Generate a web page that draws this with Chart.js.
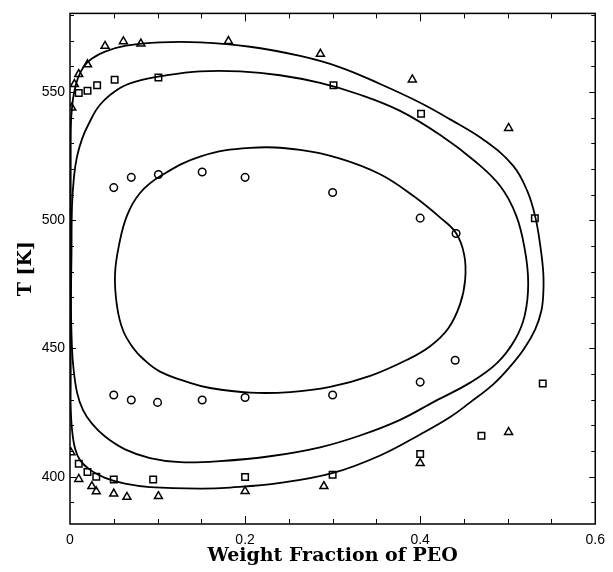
<!DOCTYPE html>
<html>
<head>
<meta charset="utf-8">
<script src="https://cdn.jsdelivr.net/npm/chart.js@4.4.0/dist/chart.umd.min.js"></script>
<style>
  html, body { margin: 0; padding: 0; background: #fff; }
  #wrap { width: 613px; height: 572px; position: relative; }
</style>
</head>
<body>
<div id="wrap"><canvas id="chart"></canvas></div>
<script>
// tick labels
var xTicks = [0, 0.2, 0.4, 0.6];
var yTicks = [400, 450, 500, 550];

// measured points: triangles, squares, circles
var triX = [0.002, 0.005, 0.010, 0.020, 0.040, 0.061, 0.081, 0.181, 0.286, 0.391, 0.501,
            0.001, 0.010, 0.025, 0.030, 0.050, 0.065, 0.101, 0.200, 0.290, 0.400, 0.501];
var triY = [543.8, 553.0, 556.9, 560.7, 567.9, 569.7, 568.8, 569.8, 564.8, 554.8, 535.9,
            409.5, 399.1, 396.3, 394.3, 393.4, 392.1, 392.4, 394.4, 396.3, 405.3, 417.4];

var sqX = [0.010, 0.020, 0.031, 0.051, 0.101, 0.301, 0.401, 0.531, 0.540,
           0.010, 0.020, 0.030, 0.050, 0.095, 0.200, 0.300, 0.400, 0.470];
var sqY = [549.6, 550.5, 552.6, 554.7, 555.6, 552.6, 541.5, 500.8, 436.4,
           405.1, 401.9, 400.0, 398.9, 398.9, 399.9, 400.8, 408.9, 416.0];

var circX = [0.050, 0.070, 0.101, 0.151, 0.200, 0.300, 0.400, 0.441,
             0.050, 0.070, 0.100, 0.151, 0.200, 0.300, 0.400, 0.440];
var circY = [512.7, 516.7, 517.8, 518.8, 516.7, 510.8, 500.8, 494.8,
             431.9, 429.9, 429.0, 429.9, 430.9, 431.9, 436.9, 445.4];

// calculated curves (closed loops, last point = first point)
var innerX = [0.0514, 0.056, 0.0651, 0.080, 0.1029, 0.1486, 0.2057, 0.2629, 0.3086, 0.3543,
              0.392, 0.4229, 0.4411, 0.4503, 0.4514, 0.4457, 0.432, 0.4114, 0.3851, 0.3429,
              0.2971, 0.2514, 0.2057, 0.160, 0.1371, 0.1029, 0.0834, 0.072, 0.0606, 0.0537, 0.0514];
var innerY = [478.8, 490.3, 501.8, 510.6, 517.1, 524.8, 528.2, 527.4, 524.0, 517.9,
              509.5, 501.0, 494.9, 486.5, 476.9, 467.4, 457.8, 450.9, 445.6, 439.3,
              435.0, 433.0, 432.8, 434.6, 436.6, 441.0, 446.0, 450.3, 457.0, 466.5, 478.8];

var midX = [0.0011, 0.0017, 0.0023, 0.0046, 0.008, 0.0137, 0.0206, 0.0343, 0.0571, 0.080,
            0.1029, 0.1486, 0.1943, 0.240, 0.2857, 0.3314, 0.3771, 0.4229, 0.4629, 0.4914,
            0.5097, 0.5195, 0.5234, 0.5195, 0.5086, 0.488, 0.4571, 0.4171, 0.3771, 0.3314,
            0.2857, 0.2286, 0.1714, 0.1257, 0.0914, 0.0629, 0.040, 0.0251, 0.0149, 0.008,
            0.0034, 0.0017, 0.0011];
var midY = [467.4, 486.5, 505.6, 517.1, 524.8, 531.6, 537.0, 545.0, 551.5, 554.5,
            556.1, 558.0, 558.0, 556.5, 553.5, 548.9, 542.6, 533.2, 522.9, 513.3,
            501.8, 488.6, 475.5, 463.0, 453.6, 444.4, 436.7, 429.5, 422.2, 416.1,
            411.5, 408.0, 406.1, 405.7, 407.3, 410.7, 415.7, 420.7, 426.0, 432.9,
            444.4, 455.9, 467.4];

var outerX = [0.0008, 0.0008, 0.0008, 0.0008, 0.0011, 0.0023, 0.0046, 0.0091, 0.016, 0.0251,
              0.040, 0.064, 0.1029, 0.1486, 0.2057, 0.2629, 0.3086, 0.3543, 0.400, 0.4343,
              0.4743, 0.5063, 0.5223, 0.5314, 0.5371, 0.5406, 0.5406, 0.5383, 0.5314, 0.5189,
              0.5029, 0.4834, 0.4571, 0.4343, 0.400, 0.3543, 0.3006, 0.240, 0.1829, 0.1486,
              0.0914, 0.0629, 0.040, 0.0229, 0.0114, 0.0057, 0.0023, 0.0008, 0.0008];
var outerY = [436.7, 467.4, 505.6, 528.6, 537.8, 543.9, 549.6, 555.4, 560.0, 563.0,
              565.7, 568.0, 569.3, 569.3, 567.6, 564.0, 559.6, 553.1, 545.8, 539.3,
              530.9, 521.2, 511.4, 501.4, 490.3, 479.6, 471.2, 464.5, 457.5, 450.0,
              443.0, 436.0, 429.0, 423.3, 416.5, 408.3, 401.5, 397.6, 395.8, 395.4,
              396.0, 397.3, 399.6, 402.7, 406.5, 411.1, 418.4, 427.2, 436.7];

function pts(xs, ys) {
  return xs.map(function(x, i){ return {x: x, y: ys[i]}; });
}

// wrap one point on each end so the spline closes smoothly, hide the wrap segments
function curve(xs, ys) {
  var d = pts(xs, ys);
  var n = d.length;
  var data = [d[n - 2]].concat(d, [d[1]]);
  var last = data.length - 1;
  return {
    data: data,
    showLine: true,
    borderColor: '#000',
    borderWidth: 1.8,
    pointRadius: 0,
    tension: 0.4,
    fill: false,
    segment: {
      borderColor: function(c){
        return (c.p0DataIndex === 0 || c.p1DataIndex === last) ? 'rgba(0,0,0,0)' : '#000';
      }
    }
  };
}

function marks(xs, ys, style, r) {
  return {
    data: pts(xs, ys),
    showLine: false,
    pointStyle: style,
    pointRadius: r,
    pointBorderColor: '#000',
    pointBackgroundColor: 'rgba(0,0,0,0)',
    pointBorderWidth: 1.5
  };
}

// frame and inward ticks
var frameTicks = {
  id: 'frameTicks',
  afterDatasetsDraw: function(chart) {
    var ctx = chart.ctx, a = chart.chartArea;
    var x = chart.scales.x, y = chart.scales.y;
    ctx.save();
    ctx.strokeStyle = '#000';
    ctx.lineWidth = 1.5;
    ctx.strokeRect(a.left, a.top, a.right - a.left, a.bottom - a.top);
    ctx.lineWidth = 1;
    ctx.beginPath();
    for (var i = 1; i < 12; i++) {
      var px = Math.round(x.getPixelForValue(i * 0.05)) + 0.5;
      var len = (i % 4 === 0) ? 8 : 5;
      ctx.moveTo(px, a.bottom); ctx.lineTo(px, a.bottom - len);
      ctx.moveTo(px, a.top); ctx.lineTo(px, a.top + len);
    }
    for (var v = 390; v <= 580; v += 10) {
      var py = Math.round(y.getPixelForValue(v)) + 0.5;
      var l2 = (v % 50 === 0) ? 6 : 4;
      ctx.moveTo(a.left, py); ctx.lineTo(a.left + l2, py);
      ctx.moveTo(a.right, py); ctx.lineTo(a.right - l2, py);
    }
    ctx.stroke();
    ctx.restore();
  }
};

var tickFont = {family: 'Liberation Sans, Arial, sans-serif', size: 14};
var titleFont = {family: 'DejaVu Serif, serif', size: 19, weight: 'bold'};

new Chart(document.getElementById('chart'), {
  type: 'scatter',
  data: {
    datasets: [
      curve(innerX, innerY),
      curve(midX, midY),
      curve(outerX, outerY),
      marks(triX, triY, 'triangle', 4.6),
      marks(sqX, sqY, 'rect', 4.6),
      marks(circX, circY, 'circle', 3.8)
    ]
  },
  options: {
    responsive: true,
    maintainAspectRatio: false,
    animation: false,
    layout: {padding: {top: 4, right: 17, left: 0, bottom: 0}},
    plugins: {legend: {display: false}, tooltip: {enabled: false}},
    scales: {
      x: {
        type: 'linear',
        min: 0, max: 0.6,
        grid: {display: false, drawTicks: false},
        border: {display: false},
        afterBuildTicks: function(s){ s.ticks = xTicks.map(function(v){ return {value: v}; }); },
        afterFit: function(s){ s.height = 48; },
        ticks: {color: '#000', font: tickFont, padding: 8, maxRotation: 0,
                callback: function(v){ return String(v); }},
        title: {display: true, text: 'Weight Fraction of PEO', color: '#000', font: titleFont,
                padding: {top: 0, bottom: 5}}
      },
      y: {
        type: 'linear',
        min: 381.6, max: 580.6,
        grid: {display: false, drawTicks: false},
        border: {display: false},
        afterBuildTicks: function(s){ s.ticks = yTicks.map(function(v){ return {value: v}; }); },
        afterFit: function(s){ s.width = 70; },
        ticks: {color: '#000', font: tickFont, padding: 5,
                callback: function(v){ return String(v); }},
        title: {display: true, text: 'T [K]', color: '#000', font: titleFont,
                padding: {top: 15, bottom: 0}}
      }
    }
  },
  plugins: [frameTicks]
});
</script>
</body>
</html>
